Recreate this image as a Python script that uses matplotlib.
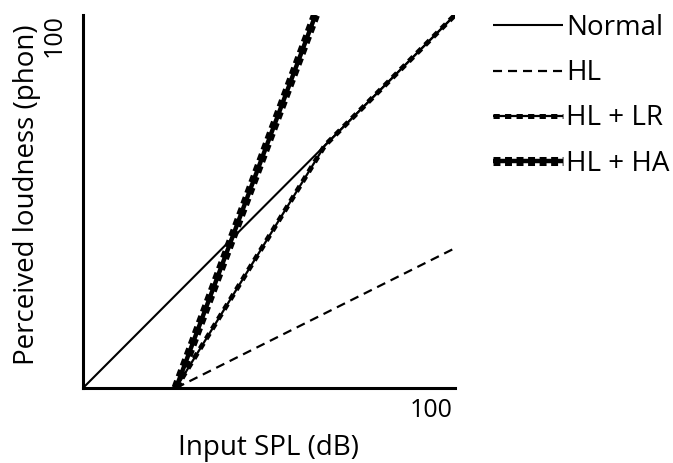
import matplotlib
matplotlib.use("Agg")
import matplotlib.pyplot as plt
from matplotlib.legend_handler import HandlerTuple

plt.rcParams['font.family'] = ['Open Sans', 'DejaVu Sans']
plt.rcParams['lines.scale_dashes'] = False

# Input level (dB SPL) and perceived loudness (phon) for each curve
normal_x = [0, 100]
normal_y = [0, 100]
hl_x = [25, 100]
hl_y = [0, 37.5]
hl_lr_x = [25, 65, 100]
hl_lr_y = [0, 65, 100]
hl_ha_x = [25, 62.5]
hl_ha_y = [0, 100]

labels = ["Normal", "HL", "HL + LR", "HL + HA"]

W, H = 673, 463
fig = plt.figure(figsize=(W / 100, H / 100), dpi=100)
ax = fig.add_axes([83 / W, 1 - 388 / H, (455 - 83) / W, (388 - 15) / H])

k = 'black'
h_normal, = ax.plot(normal_x, normal_y, color=k, lw=1.5, solid_capstyle='butt')
h_hl, = ax.plot(hl_x, hl_y, color=k, lw=1.6, dashes=(6.5, 4.3))

# beaded lines: a thin core with short thick dashes on top
lr_core, = ax.plot(hl_lr_x, hl_lr_y, color=k, lw=1.6)
lr_bead, = ax.plot(hl_lr_x, hl_lr_y, color=k, lw=3.6, dashes=(4.5, 3.8))
ha_core, = ax.plot(hl_ha_x, hl_ha_y, color=k, lw=3.2)
ha_bead, = ax.plot(hl_ha_x, hl_ha_y, color=k, lw=6.5, dashes=(5.0, 3.3))

for h in (lr_core, lr_bead, ha_core, ha_bead):
    h.set_solid_capstyle('butt')
    h.set_dash_capstyle('butt')

ax.set_xlim(0, 100)
ax.set_ylim(0, 100)
ax.set_xticks([])
ax.set_yticks([])
for s in ('top', 'right'):
    ax.spines[s].set_visible(False)
for s in ('left', 'bottom'):
    ax.spines[s].set_linewidth(2.2)

# end-of-axis value labels
fig.text(453 / W, 1 - 398 / H, "100", ha='right', va='top', fontsize=18)
fig.text(67 / W, 1 - 14 / H, "100", ha='right', va='top', rotation=90, fontsize=18)

# axis titles
fig.text(268 / W, 1 - 455 / H, "Input SPL (dB)", ha='center', va='baseline', fontsize=20)
fig.text(27 / W, 1 - 195 / H, "Perceived loudness (phon)", ha='center', va='center',
         rotation=90, fontsize=20)

leg = ax.legend([h_normal, h_hl, (lr_core, lr_bead), (ha_core, ha_bead)], labels,
                handler_map={tuple: HandlerTuple(ndivide=1, pad=0)},
                loc='upper left', bbox_to_anchor=(493 / W, 1 - 14 / H),
                bbox_transform=fig.transFigure, frameon=False, fontsize=20,
                handlelength=2.52, handletextpad=0.1, labelspacing=0.62,
                borderaxespad=0, borderpad=0)

fig.savefig("out.png", dpi=100)
